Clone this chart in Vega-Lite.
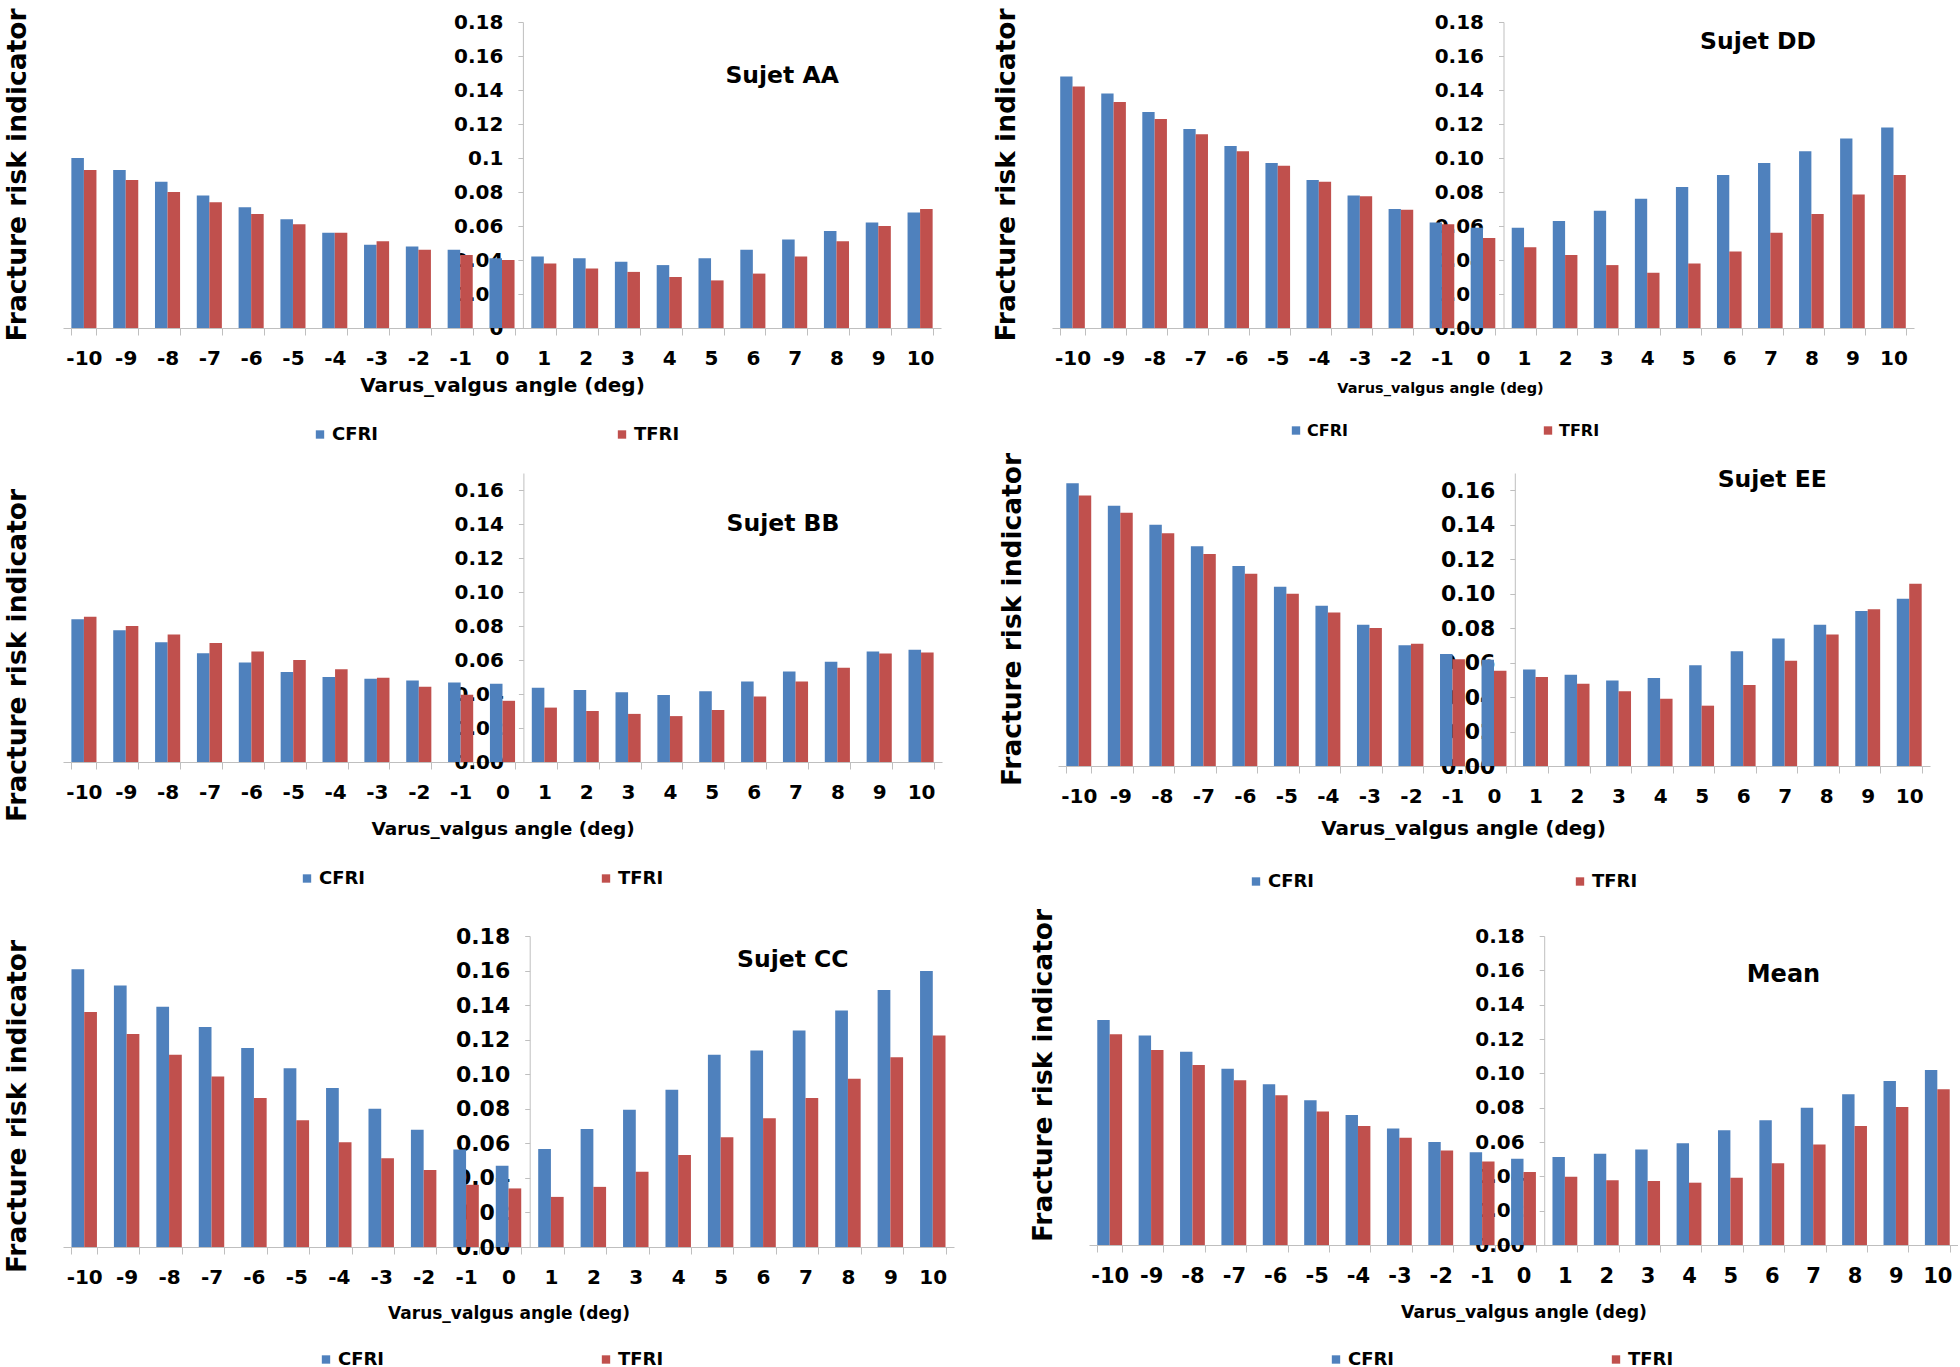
{
  "$schema": "https://vega.github.io/schema/vega-lite/v6.json",
  "background": "white",
  "padding": {"left": 4, "top": 8, "right": 0, "bottom": 0},
  "datasets": {
    "d": [
      {"s":"AA","a":-10,"CFRI":0.100,"TFRI":0.093},{"s":"AA","a":-9,"CFRI":0.093,"TFRI":0.087},{"s":"AA","a":-8,"CFRI":0.086,"TFRI":0.080},{"s":"AA","a":-7,"CFRI":0.078,"TFRI":0.074},{"s":"AA","a":-6,"CFRI":0.071,"TFRI":0.067},{"s":"AA","a":-5,"CFRI":0.064,"TFRI":0.061},{"s":"AA","a":-4,"CFRI":0.056,"TFRI":0.056},{"s":"AA","a":-3,"CFRI":0.049,"TFRI":0.051},{"s":"AA","a":-2,"CFRI":0.048,"TFRI":0.046},{"s":"AA","a":-1,"CFRI":0.046,"TFRI":0.043},{"s":"AA","a":0,"CFRI":0.041,"TFRI":0.040},{"s":"AA","a":1,"CFRI":0.042,"TFRI":0.038},{"s":"AA","a":2,"CFRI":0.041,"TFRI":0.035},{"s":"AA","a":3,"CFRI":0.039,"TFRI":0.033},{"s":"AA","a":4,"CFRI":0.037,"TFRI":0.030},{"s":"AA","a":5,"CFRI":0.041,"TFRI":0.028},{"s":"AA","a":6,"CFRI":0.046,"TFRI":0.032},{"s":"AA","a":7,"CFRI":0.052,"TFRI":0.042},{"s":"AA","a":8,"CFRI":0.057,"TFRI":0.051},{"s":"AA","a":9,"CFRI":0.062,"TFRI":0.060},{"s":"AA","a":10,"CFRI":0.068,"TFRI":0.070},
      {"s":"DD","a":-10,"CFRI":0.148,"TFRI":0.142},{"s":"DD","a":-9,"CFRI":0.138,"TFRI":0.133},{"s":"DD","a":-8,"CFRI":0.127,"TFRI":0.123},{"s":"DD","a":-7,"CFRI":0.117,"TFRI":0.114},{"s":"DD","a":-6,"CFRI":0.107,"TFRI":0.104},{"s":"DD","a":-5,"CFRI":0.097,"TFRI":0.0955},{"s":"DD","a":-4,"CFRI":0.087,"TFRI":0.086},{"s":"DD","a":-3,"CFRI":0.078,"TFRI":0.0775},{"s":"DD","a":-2,"CFRI":0.070,"TFRI":0.0695},{"s":"DD","a":-1,"CFRI":0.062,"TFRI":0.061},{"s":"DD","a":0,"CFRI":0.059,"TFRI":0.053},{"s":"DD","a":1,"CFRI":0.059,"TFRI":0.0475},{"s":"DD","a":2,"CFRI":0.063,"TFRI":0.043},{"s":"DD","a":3,"CFRI":0.069,"TFRI":0.037},{"s":"DD","a":4,"CFRI":0.076,"TFRI":0.0325},{"s":"DD","a":5,"CFRI":0.083,"TFRI":0.038},{"s":"DD","a":6,"CFRI":0.090,"TFRI":0.045},{"s":"DD","a":7,"CFRI":0.097,"TFRI":0.056},{"s":"DD","a":8,"CFRI":0.104,"TFRI":0.067},{"s":"DD","a":9,"CFRI":0.1115,"TFRI":0.0785},{"s":"DD","a":10,"CFRI":0.118,"TFRI":0.090},
      {"s":"BB","a":-10,"CFRI":0.084,"TFRI":0.0855},{"s":"BB","a":-9,"CFRI":0.0775,"TFRI":0.080},{"s":"BB","a":-8,"CFRI":0.0705,"TFRI":0.075},{"s":"BB","a":-7,"CFRI":0.064,"TFRI":0.070},{"s":"BB","a":-6,"CFRI":0.0585,"TFRI":0.065},{"s":"BB","a":-5,"CFRI":0.053,"TFRI":0.060},{"s":"BB","a":-4,"CFRI":0.050,"TFRI":0.0546},{"s":"BB","a":-3,"CFRI":0.049,"TFRI":0.0496},{"s":"BB","a":-2,"CFRI":0.048,"TFRI":0.0443},{"s":"BB","a":-1,"CFRI":0.0467,"TFRI":0.0395},{"s":"BB","a":0,"CFRI":0.046,"TFRI":0.036},{"s":"BB","a":1,"CFRI":0.0437,"TFRI":0.032},{"s":"BB","a":2,"CFRI":0.0423,"TFRI":0.030},{"s":"BB","a":3,"CFRI":0.041,"TFRI":0.0283},{"s":"BB","a":4,"CFRI":0.0394,"TFRI":0.027},{"s":"BB","a":5,"CFRI":0.0416,"TFRI":0.0306},{"s":"BB","a":6,"CFRI":0.0474,"TFRI":0.0386},{"s":"BB","a":7,"CFRI":0.0533,"TFRI":0.0474},{"s":"BB","a":8,"CFRI":0.059,"TFRI":0.0554},{"s":"BB","a":9,"CFRI":0.065,"TFRI":0.0638},{"s":"BB","a":10,"CFRI":0.066,"TFRI":0.0644},
      {"s":"EE","a":-10,"CFRI":0.164,"TFRI":0.157},{"s":"EE","a":-9,"CFRI":0.151,"TFRI":0.147},{"s":"EE","a":-8,"CFRI":0.140,"TFRI":0.135},{"s":"EE","a":-7,"CFRI":0.1275,"TFRI":0.123},{"s":"EE","a":-6,"CFRI":0.116,"TFRI":0.1115},{"s":"EE","a":-5,"CFRI":0.104,"TFRI":0.100},{"s":"EE","a":-4,"CFRI":0.093,"TFRI":0.089},{"s":"EE","a":-3,"CFRI":0.082,"TFRI":0.080},{"s":"EE","a":-2,"CFRI":0.070,"TFRI":0.071},{"s":"EE","a":-1,"CFRI":0.065,"TFRI":0.062},{"s":"EE","a":0,"CFRI":0.0616,"TFRI":0.0553},{"s":"EE","a":1,"CFRI":0.056,"TFRI":0.0516},{"s":"EE","a":2,"CFRI":0.053,"TFRI":0.0477},{"s":"EE","a":3,"CFRI":0.0496,"TFRI":0.0434},{"s":"EE","a":4,"CFRI":0.051,"TFRI":0.039},{"s":"EE","a":5,"CFRI":0.0584,"TFRI":0.035},{"s":"EE","a":6,"CFRI":0.0666,"TFRI":0.047},{"s":"EE","a":7,"CFRI":0.074,"TFRI":0.061},{"s":"EE","a":8,"CFRI":0.082,"TFRI":0.0763},{"s":"EE","a":9,"CFRI":0.090,"TFRI":0.091},{"s":"EE","a":10,"CFRI":0.097,"TFRI":0.1057},
      {"s":"CC","a":-10,"CFRI":0.1607,"TFRI":0.136},{"s":"CC","a":-9,"CFRI":0.1514,"TFRI":0.1233},{"s":"CC","a":-8,"CFRI":0.139,"TFRI":0.1113},{"s":"CC","a":-7,"CFRI":0.1274,"TFRI":0.0987},{"s":"CC","a":-6,"CFRI":0.1152,"TFRI":0.0862},{"s":"CC","a":-5,"CFRI":0.1034,"TFRI":0.0734},{"s":"CC","a":-4,"CFRI":0.092,"TFRI":0.0606},{"s":"CC","a":-3,"CFRI":0.080,"TFRI":0.0513},{"s":"CC","a":-2,"CFRI":0.0678,"TFRI":0.0445},{"s":"CC","a":-1,"CFRI":0.0565,"TFRI":0.036},{"s":"CC","a":0,"CFRI":0.047,"TFRI":0.0339},{"s":"CC","a":1,"CFRI":0.0567,"TFRI":0.029},{"s":"CC","a":2,"CFRI":0.0683,"TFRI":0.0348},{"s":"CC","a":3,"CFRI":0.0794,"TFRI":0.0436},{"s":"CC","a":4,"CFRI":0.091,"TFRI":0.0532},{"s":"CC","a":5,"CFRI":0.1113,"TFRI":0.0635},{"s":"CC","a":6,"CFRI":0.1138,"TFRI":0.0745},{"s":"CC","a":7,"CFRI":0.1253,"TFRI":0.0862},{"s":"CC","a":8,"CFRI":0.1369,"TFRI":0.0974},{"s":"CC","a":9,"CFRI":0.1487,"TFRI":0.1098},{"s":"CC","a":10,"CFRI":0.1597,"TFRI":0.1224},
      {"s":"Mean","a":-10,"CFRI":0.1311,"TFRI":0.1227},{"s":"Mean","a":-9,"CFRI":0.1221,"TFRI":0.1136},{"s":"Mean","a":-8,"CFRI":0.1126,"TFRI":0.1049},{"s":"Mean","a":-7,"CFRI":0.1027,"TFRI":0.0959},{"s":"Mean","a":-6,"CFRI":0.0936,"TFRI":0.0872},{"s":"Mean","a":-5,"CFRI":0.0843,"TFRI":0.0777},{"s":"Mean","a":-4,"CFRI":0.0757,"TFRI":0.0693},{"s":"Mean","a":-3,"CFRI":0.0678,"TFRI":0.0625},{"s":"Mean","a":-2,"CFRI":0.060,"TFRI":0.0551},{"s":"Mean","a":-1,"CFRI":0.0541,"TFRI":0.0487},{"s":"Mean","a":0,"CFRI":0.0502,"TFRI":0.0425},{"s":"Mean","a":1,"CFRI":0.0512,"TFRI":0.0398},{"s":"Mean","a":2,"CFRI":0.0532,"TFRI":0.0377},{"s":"Mean","a":3,"CFRI":0.0557,"TFRI":0.0373},{"s":"Mean","a":4,"CFRI":0.0592,"TFRI":0.0363},{"s":"Mean","a":5,"CFRI":0.0668,"TFRI":0.0392},{"s":"Mean","a":6,"CFRI":0.0726,"TFRI":0.0476},{"s":"Mean","a":7,"CFRI":0.080,"TFRI":0.0586},{"s":"Mean","a":8,"CFRI":0.0878,"TFRI":0.0693},{"s":"Mean","a":9,"CFRI":0.0955,"TFRI":0.0804},{"s":"Mean","a":10,"CFRI":0.1019,"TFRI":0.0907}
    ]
  },
  "spacing": 0,
  "bounds": "full",
  "resolve": {
    "scale": {"x": "independent", "y": "independent", "color": "independent", "xOffset": "independent"},
    "axis": {"x": "independent", "y": "independent"},
    "legend": {"color": "independent"}
  },
  "vconcat": [
    {
      "spacing": 111,
      "bounds": "flush",
      "resolve": {
        "scale": {"x": "independent", "y": "independent", "color": "independent", "xOffset": "independent"},
        "axis": {"x": "independent", "y": "independent"},
        "legend": {"color": "independent"}
      },
      "hconcat": [
        {
          "width": 878, "height": 306,
          "data": {"name": "d"},
          "transform": [{"filter": "datum.s === 'AA'"}, {"fold": ["CFRI", "TFRI"], "as": ["k", "v"]}],
          "title": {"text": "Fracture risk indicator", "orient": "left", "anchor": "middle", "frame": "group", "offset": 32, "fontSize": 26.5},
          "layer": [
            {"mark": {"type": "bar"},
             "encoding": {
               "x": {"field": "a", "type": "ordinal", "scale": {"paddingInner": 0.4, "paddingOuter": 0.2},
                     "axis": {"title": "Varus_valgus angle (deg)", "titleFontSize": 20, "titlePadding": 7, "labelFontSize": 20}},
               "xOffset": {"field": "k", "type": "nominal"},
               "y": {"field": "v", "type": "quantitative", "scale": {"domain": [0, 0.18], "nice": false},
                     "axis": {"title": null, "offset": -459.9, "tickCount": 30, "labelOverlap": false, "values": [0, 0.02, 0.04, 0.06, 0.08, 0.1, 0.12, 0.14, 0.16, 0.18], "format": "~g", "labelFontSize": 20}},
               "color": {"field": "k", "type": "nominal", "scale": {"domain": ["CFRI", "TFRI"], "range": ["#4F81BD", "#C0504D"]},
                         "legend": {"columnPadding": 234, "legendX": 248, "legendY": 403.5}}
             }},
            {"data": {"values": [{"label": "Sujet AA"}]},
             "mark": {"type": "text", "fontSize": 23.5, "fontWeight": "bold"},
             "encoding": {"x": {"datum": 7, "type": "ordinal", "bandPosition": 0}, "y": {"datum": 0.148, "type": "quantitative"}, "text": {"field": "label"}}}
          ]
        },
        {
          "width": 862, "height": 306,
          "data": {"name": "d"},
          "transform": [{"filter": "datum.s === 'DD'"}, {"fold": ["CFRI", "TFRI"], "as": ["k", "v"]}],
          "title": {"text": "Fracture risk indicator", "orient": "left", "anchor": "middle", "frame": "group", "offset": 32, "fontSize": 26.5},
          "layer": [
            {"mark": {"type": "bar"},
             "encoding": {
               "x": {"field": "a", "type": "ordinal", "scale": {"paddingInner": 0.4, "paddingOuter": 0.2},
                     "axis": {"title": "Varus_valgus angle (deg)", "titleFontSize": 14.5, "titlePadding": 13, "titleX": 388, "labelFontSize": 20}},
               "xOffset": {"field": "k", "type": "nominal"},
               "y": {"field": "v", "type": "quantitative", "scale": {"domain": [0, 0.18], "nice": false},
                     "axis": {"title": null, "offset": -451.5, "tickCount": 30, "labelOverlap": false, "values": [0, 0.02, 0.04, 0.06, 0.08, 0.1, 0.12, 0.14, 0.16, 0.18], "format": ".2f", "labelFontSize": 20}},
               "color": {"field": "k", "type": "nominal", "scale": {"domain": ["CFRI", "TFRI"], "range": ["#4F81BD", "#C0504D"]},
                         "legend": {"columnPadding": 192, "legendX": 236, "legendY": 400.5, "labelFontSize": 16}}
             }},
            {"data": {"values": [{"label": "Sujet DD"}]},
             "mark": {"type": "text", "fontSize": 23.5, "fontWeight": "bold"},
             "encoding": {"x": {"datum": 7, "type": "ordinal", "bandPosition": 0}, "y": {"datum": 0.168, "type": "quantitative"}, "text": {"field": "label"}}}
          ]
        }
      ]
    },
    {"width": 1, "height": 8, "data": {"values": []}, "mark": {"type": "point", "opacity": 0}},
    {
      "spacing": 116,
      "bounds": "flush",
      "resolve": {
        "scale": {"x": "independent", "y": "independent", "color": "independent", "xOffset": "independent"},
        "axis": {"x": "independent", "y": "independent"},
        "legend": {"color": "independent"}
      },
      "hconcat": [
        {
          "width": 879, "height": 289,
          "data": {"name": "d"},
          "transform": [{"filter": "datum.s === 'BB'"}, {"fold": ["CFRI", "TFRI"], "as": ["k", "v"]}],
          "title": {"text": "Fracture risk indicator", "orient": "left", "anchor": "middle", "frame": "group", "offset": 32, "fontSize": 26.5, "dx": -38},
          "layer": [
            {"mark": {"type": "bar"},
             "encoding": {
               "x": {"field": "a", "type": "ordinal", "scale": {"paddingInner": 0.4, "paddingOuter": 0.2},
                     "axis": {"title": "Varus_valgus angle (deg)", "titleFontSize": 18.5, "titlePadding": 17.5, "labelFontSize": 20}},
               "xOffset": {"field": "k", "type": "nominal"},
               "y": {"field": "v", "type": "quantitative", "scale": {"domain": [0, 0.17], "nice": false},
                     "axis": {"title": null, "offset": -460.4, "tickCount": 30, "labelOverlap": false, "values": [0, 0.02, 0.04, 0.06, 0.08, 0.1, 0.12, 0.14, 0.16], "format": ".2f", "labelFontSize": 20}},
               "color": {"field": "k", "type": "nominal", "scale": {"domain": ["CFRI", "TFRI"], "range": ["#4F81BD", "#C0504D"]},
                         "legend": {"columnPadding": 231, "legendX": 235, "legendY": 396.5}}
             }},
            {"data": {"values": [{"label": "Sujet BB"}]},
             "mark": {"type": "text", "fontSize": 23.5, "fontWeight": "bold"},
             "encoding": {"x": {"datum": 7, "type": "ordinal", "bandPosition": 0}, "y": {"datum": 0.14, "type": "quantitative"}, "text": {"field": "label"}}}
          ]
        },
        {
          "width": 872, "height": 293,
          "data": {"name": "d"},
          "transform": [{"filter": "datum.s === 'EE'"}, {"fold": ["CFRI", "TFRI"], "as": ["k", "v"]}],
          "title": {"text": "Fracture risk indicator", "orient": "left", "anchor": "middle", "frame": "group", "offset": 32, "fontSize": 26.5},
          "layer": [
            {"mark": {"type": "bar"},
             "encoding": {
               "x": {"field": "a", "type": "ordinal", "scale": {"paddingInner": 0.4, "paddingOuter": 0.2},
                     "axis": {"title": "Varus_valgus angle (deg)", "titleFontSize": 20, "titlePadding": 12, "titleX": 405, "labelFontSize": 20}},
               "xOffset": {"field": "k", "type": "nominal"},
               "y": {"field": "v", "type": "quantitative", "scale": {"domain": [0, 0.17], "nice": false},
                     "axis": {"title": null, "offset": -456.8, "tickCount": 30, "labelOverlap": false, "values": [0, 0.02, 0.04, 0.06, 0.08, 0.1, 0.12, 0.14, 0.16], "format": ".2f", "labelFontSize": 22}},
               "color": {"field": "k", "type": "nominal", "scale": {"domain": ["CFRI", "TFRI"], "range": ["#4F81BD", "#C0504D"]},
                         "legend": {"columnPadding": 256, "legendX": 189, "legendY": 399.5}}
             }},
            {"data": {"values": [{"label": "Sujet EE"}]},
             "mark": {"type": "text", "fontSize": 23.5, "fontWeight": "bold"},
             "encoding": {"x": {"datum": 7, "type": "ordinal", "bandPosition": 0}, "y": {"datum": 0.166, "type": "quantitative"}, "text": {"field": "label"}}}
          ]
        }
      ]
    },
    {"width": 1, "height": 17, "data": {"values": []}, "mark": {"type": "point", "opacity": 0}},
    {
      "spacing": 135,
      "bounds": "flush",
      "resolve": {
        "scale": {"x": "independent", "y": "independent", "color": "independent", "xOffset": "independent"},
        "axis": {"x": "independent", "y": "independent"},
        "legend": {"color": "independent"}
      },
      "hconcat": [
        {
          "width": 891, "height": 311,
          "data": {"name": "d"},
          "transform": [{"filter": "datum.s === 'CC'"}, {"fold": ["CFRI", "TFRI"], "as": ["k", "v"]}],
          "title": {"text": "Fracture risk indicator", "orient": "left", "anchor": "middle", "frame": "group", "offset": 32, "fontSize": 26.5, "dx": -15},
          "layer": [
            {"mark": {"type": "bar"},
             "encoding": {
               "x": {"field": "a", "type": "ordinal", "scale": {"paddingInner": 0.4, "paddingOuter": 0.2},
                     "axis": {"title": "Varus_valgus angle (deg)", "titleFontSize": 17, "titlePadding": 18, "labelFontSize": 20}},
               "xOffset": {"field": "k", "type": "nominal"},
               "y": {"field": "v", "type": "quantitative", "scale": {"domain": [0, 0.18], "nice": false},
                     "axis": {"title": null, "offset": -466.7, "tickCount": 30, "labelOverlap": false, "values": [0, 0.02, 0.04, 0.06, 0.08, 0.1, 0.12, 0.14, 0.16, 0.18], "format": ".2f", "labelFontSize": 22}},
               "color": {"field": "k", "type": "nominal", "scale": {"domain": ["CFRI", "TFRI"], "range": ["#4F81BD", "#C0504D"]},
                         "legend": {"columnPadding": 212, "legendX": 254, "legendY": 414.5}}
             }},
            {"data": {"values": [{"label": "Sujet CC"}]},
             "mark": {"type": "text", "fontSize": 23.5, "fontWeight": "bold"},
             "encoding": {"x": {"datum": 7, "type": "ordinal", "bandPosition": 0}, "y": {"datum": 0.166, "type": "quantitative"}, "text": {"field": "label"}}}
          ]
        },
        {
          "width": 869, "height": 309,
          "data": {"name": "d"},
          "transform": [{"filter": "datum.s === 'Mean'"}, {"fold": ["CFRI", "TFRI"], "as": ["k", "v"]}],
          "title": {"text": "Fracture risk indicator", "orient": "left", "anchor": "middle", "frame": "group", "offset": 32, "fontSize": 26.5, "dx": 15},
          "layer": [
            {"mark": {"type": "bar"},
             "encoding": {
               "x": {"field": "a", "type": "ordinal", "scale": {"paddingInner": 0.4, "paddingOuter": 0.2},
                     "axis": {"title": "Varus_valgus angle (deg)", "titleFontSize": 17.3, "titlePadding": 17, "labelFontSize": 21}},
               "xOffset": {"field": "k", "type": "nominal"},
               "y": {"field": "v", "type": "quantitative", "scale": {"domain": [0, 0.18], "nice": false},
                     "axis": {"title": null, "offset": -455.2, "tickCount": 30, "labelOverlap": false, "values": [0, 0.02, 0.04, 0.06, 0.08, 0.1, 0.12, 0.14, 0.16, 0.18], "format": ".2f", "labelFontSize": 20}},
               "color": {"field": "k", "type": "nominal", "scale": {"domain": ["CFRI", "TFRI"], "range": ["#4F81BD", "#C0504D"]},
                         "legend": {"columnPadding": 212, "legendX": 238, "legendY": 414.5}}
             }},
            {"data": {"values": [{"label": "Mean"}]},
             "mark": {"type": "text", "fontSize": 24, "fontWeight": "bold"},
             "encoding": {"x": {"datum": 6, "type": "ordinal", "bandPosition": 0.97}, "y": {"datum": 0.157, "type": "quantitative"}, "text": {"field": "label"}}}
          ]
        }
      ]
    }
  ],
  "config": {
    "font": "DejaVu Sans",
    "view": {"stroke": null},
    "axis": {"labelFont": "DejaVu Sans", "labelFontWeight": "bold", "labelColor": "#000000", "titleFont": "DejaVu Sans", "titleFontWeight": "bold", "titleColor": "#000000", "domainColor": "#BFBFBF", "tickColor": "#BFBFBF", "grid": false},
    "axisX": {"labelAngle": 0, "tickBand": "extent", "tickSize": 7, "labelPadding": 13},
    "axisY": {"zindex": 1, "tickSize": 5, "labelPadding": 15, "labelOverlap": false},
    "legend": {"orient": "none", "direction": "horizontal", "title": null, "padding": 0, "symbolType": "square", "symbolSize": 70, "symbolStrokeWidth": 0, "labelFont": "DejaVu Sans", "labelFontWeight": "bold", "labelFontSize": 18, "labelColor": "#000000", "labelOffset": 3},
    "title": {"font": "DejaVu Sans", "fontWeight": "bold", "color": "#000000"},
    "text": {"font": "DejaVu Sans", "color": "#000000"}
  }
}
